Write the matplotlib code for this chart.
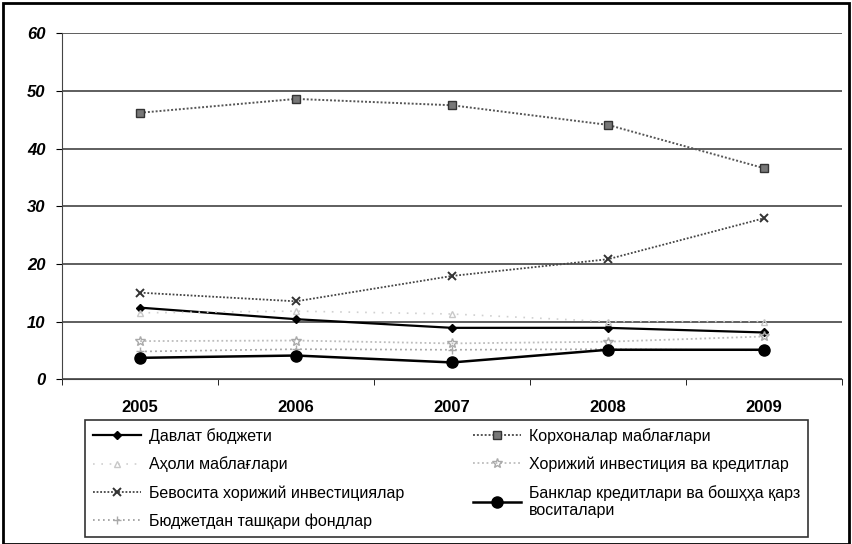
from matplotlib import pyplot as plt
from matplotlib.patches import Rectangle

years = ["2005", "2006", "2007", "2008", "2009"]

davlat = [12.4, 10.4, 8.9, 8.9, 8.1]
korxona = [46.2, 48.6, 47.5, 44.1, 36.6]
aholi = [11.5, 11.8, 11.3, 10.0, 10.0]
xorijiy = [6.6, 6.7, 6.2, 6.5, 7.4]
bevosita = [15.0, 13.5, 17.9, 20.8, 27.9]
banklar = [3.7, 4.1, 2.9, 5.1, 5.1]
fondlar = [4.8, 5.2, 5.1, 5.2, 5.0]

labels = [
    "Давлат бюджети",
    "Корхоналар маблағлари",
    "Аҳоли маблағлари",
    "Хорижий инвестиция ва кредитлар",
    "Бевосита хорижий инвестициялар",
    "Банклар кредитлари ва бошҳҳа қарз\nвоситалари",
    "Бюджетдан ташқари фондлар",
]

plt.rcParams['font.family'] = ['Liberation Sans', 'DejaVu Sans']

fig = plt.figure(figsize=(8.52, 5.44), dpi=100)
ax = fig.add_axes([0.073, 0.303, 0.915, 0.636])

x = list(range(len(years)))

# lines, drawn in the order they appear in the legend (column-wise)
l1, = ax.plot(x, davlat, color="black", lw=1.6, marker="D", ms=4.5)
l3, = ax.plot(x, aholi, color="#d0d0d0", lw=1.2, ls=(0, (1, 4)), marker="^", ms=5,
              mfc="none", mec="#c8c8c8")
l5, = ax.plot(x, bevosita, color="#444444", lw=1.3, ls=(0, (1, 1)), marker="x", ms=6,
              mew=1.4, mec="#333333")
l7, = ax.plot(x, fondlar, color="#9a9a9a", lw=1.2, ls=(0, (1, 2)), marker="+", ms=6,
              mec="#aaaaaa")
l2, = ax.plot(x, korxona, color="#555555", lw=1.4, ls=(0, (1, 1)), marker="s", ms=6,
              mfc="#777777", mec="#333333")
l4, = ax.plot(x, xorijiy, color="#bdbdbd", lw=1.3, ls=(0, (1, 1.5)), marker="*", ms=7,
              mfc="none", mec="#aaaaaa")
l6, = ax.plot(x, banklar, color="black", lw=1.8, marker="o", ms=8)

ax.set_xlim(-0.5, len(years) - 0.5)
ax.set_ylim(0, 60)
ax.set_yticks(range(0, 61, 10))
ax.yaxis.grid(True, color="#333333", lw=1.1)
ax.set_axisbelow(True)

ax.set_xticks(x)
ax.set_xticklabels(years, fontsize=12, fontweight="bold")
ax.set_xticks([i - 0.5 for i in range(len(years) + 1)], minor=True)
ax.tick_params(axis="x", which="major", length=0, pad=15)
ax.tick_params(axis="x", which="minor", length=4, direction="out")
ax.tick_params(axis="y", length=4, direction="out", pad=8)
for t in ax.get_yticklabels():
    t.set_fontsize(12)
    t.set_fontweight("bold")
    t.set_fontstyle("italic")

for s in ["top", "right"]:
    ax.spines[s].set_visible(False)
ax.spines["left"].set_color("#444444")
ax.spines["bottom"].set_color("#444444")
ax.spines["bottom"].set_linestyle((0, (2, 1)))

handles = [l1, l3, l5, l7, l2, l4, l6]
hlabels = [labels[0], labels[2], labels[4], labels[6], labels[1], labels[3], labels[5]]
leg = fig.legend(handles, hlabels, ncol=2, loc="upper left",
                 bbox_to_anchor=(0.1, 0.228),
                 fontsize=11.5, frameon=True, fancybox=False, edgecolor="black",
                 handlelength=3.0, handletextpad=0.5, labelspacing=0.8,
                 columnspacing=4.3, borderaxespad=0, borderpad=0.5)
leg.get_frame().set_linewidth(1.2)

fig.patches.append(Rectangle((0.003, 0.0), 0.993, 0.995, transform=fig.transFigure,
                             fill=False, edgecolor="black", lw=2))

fig.savefig("out.png", dpi=100)
